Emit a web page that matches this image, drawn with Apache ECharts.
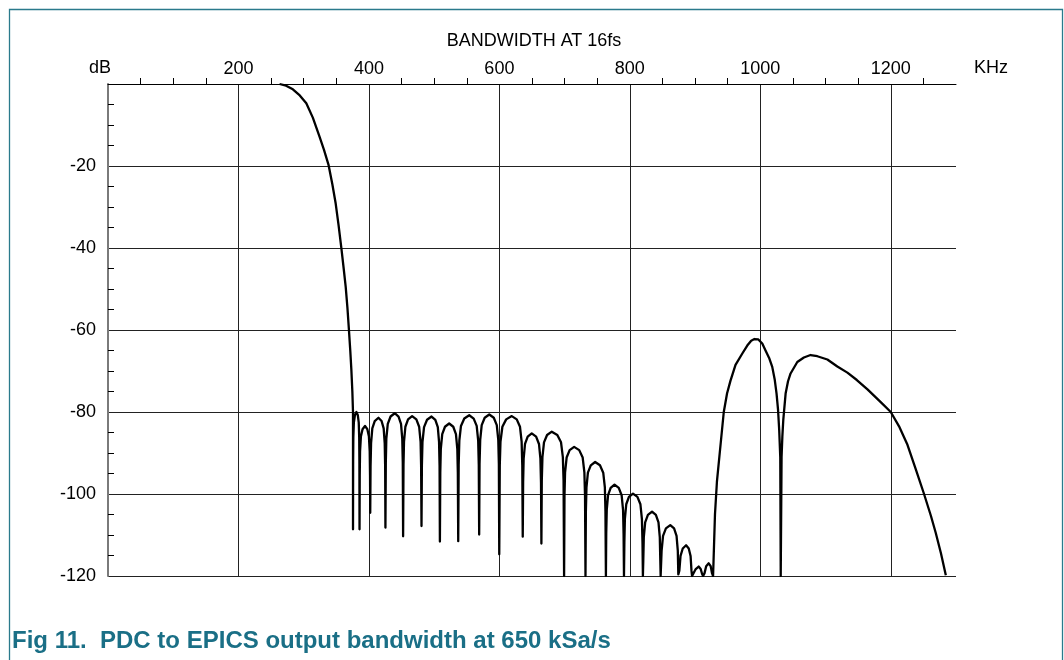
<!DOCTYPE html>
<html><head><meta charset="utf-8">
<script src="https://cdn.jsdelivr.net/npm/echarts@6/dist/echarts.min.js"></script>
<style>html,body{margin:0;padding:0;background:#fff}#c{width:1064px;height:660px}</style>
</head><body><div id="c"></div>
<script>
// ---- tick values ----
const xTickLabels = [200, 400, 600, 800, 1000, 1200];
const xMinorTicks = [50,100,150,250,300,350,450,500,550,650,700,750,850,900,950,1050,1100,1150,1250];
const yTickLabels = [-20, -40, -60, -80, -100, -120];
const yMinorTicks = [-5,-10,-15,-25,-30,-35,-45,-50,-55,-65,-70,-75,-85,-90,-95,-105,-110,-115];

// ---- curve: [frequency kHz, gain dB] ----
const mainLobe = [
  [263,0],[273,-0.4],[283.4,-1.3],[294,-2.8],[304,-4.7],[314,-8.2],[324.4,-12.9],[331,-16],[338.2,-19.8],
  [344,-24.5],[349,-29.1],[353.5,-34.5],[357.8,-40.1],[361.3,-45],[364.4,-49.5],[367,-54.5],[369.4,-60.1],
  [371.4,-65],[373.1,-69.8],[374.6,-75],[375.6,-80],[375.6,-108.6]
];
const stopbandLobes = [
  [375.8,-92],[376.1,-86.2],[376.9,-82.6],[378.5,-80.8],[380.8,-80],[383,-80.8],[384.4,-82.6],[385.1,-86.2],[385.4,-92],[385.6,-108.6],
  [385.9,-95.4],[386.4,-89.6],[387.7,-86],[390.2,-84.2],[394,-83.4],[397.6,-84.2],[400,-86],[401.2,-89.6],[401.7,-95.4],[402,-104.6],
  [402.5,-93.4],[403.3,-87.6],[405.2,-84],[408.9,-82.2],[414.6,-81.4],[419.4,-82.2],[422.6,-84],[424.2,-87.6],[424.9,-93.4],[425.3,-108.2],
  [425.9,-92.3],[426.7,-86.5],[428.9,-82.9],[433.2,-81.1],[439.6,-80.3],[445.4,-81.1],[449.2,-82.9],[451.1,-86.5],[451.9,-92.3],[452.4,-110.3],
  [453,-93],[453.8,-87.2],[455.9,-83.6],[460,-81.8],[466.2,-81],[472.7,-81.8],[477,-83.6],[479.2,-87.2],[480,-93],[480.6,-107.8],
  [481.2,-93.1],[482.1,-87.3],[484.5,-83.7],[489.1,-81.9],[496,-81.1],[501.8,-81.9],[505.6,-83.7],[507.5,-87.3],[508.3,-93.1],[508.8,-111.6],
  [509.4,-94.8],[510.2,-89],[512.4,-85.4],[516.6,-83.6],[523,-82.8],[529.3,-83.6],[533.4,-85.4],[535.5,-89],[536.3,-94.8],[536.9,-111.5],
  [537.6,-92.8],[538.6,-87],[541.1,-83.4],[546.2,-81.6],[553.8,-80.8],[560.6,-81.6],[565.2,-83.4],[567.5,-87],[568.4,-92.8],[569,-109.9],
  [569.6,-92.6],[570.6,-86.8],[572.9,-83.2],[577.5,-81.4],[584.5,-80.6],[591.4,-81.4],[596,-83.2],[598.3,-86.8],[599.2,-92.6],[599.8,-114.7],
  [600.6,-93],[601.7,-87.2],[604.6,-83.6],[610.4,-81.8],[619,-81],[626.6,-81.8],[631.6,-83.6],[634.1,-87.2],[635.1,-93],[635.8,-110.4],
  [636.4,-97.2],[637.2,-91.4],[639.3,-87.8],[643.4,-86],[649.6,-85.2],[656.3,-86],[660.7,-87.8],[662.9,-91.4],[663.8,-97.2],[664.4,-112.1],
  [665,-96.8],[666,-91],[668.4,-87.4],[673.1,-85.6],[680.3,-84.8],[688.8,-85.6],[694.5,-87.4],[697.3,-91],[698.4,-96.8],[699.2,-120],
  [699.8,-100.5],[700.7,-94.7],[703.1,-91.1],[707.7,-89.3],[714.6,-88.5],[722.4,-89.3],[727.7,-91.1],[730.3,-94.7],[731.3,-100.5],[732,-120],
  [732.6,-104.2],[733.5,-98.4],[735.7,-94.8],[740.1,-93],[746.8,-92.2],[754.2,-93],[759.2,-94.8],[761.7,-98.4],[762.6,-104.2],[763.3,-120],
  [763.8,-109.7],[764.6,-103.9],[766.6,-100.3],[770.6,-98.5],[776.5,-97.7],[783,-98.5],[787.4,-100.3],[789.6,-103.9],[790.4,-109.7],[791,-120],
  [791.6,-111.9],[792.4,-106.1],[794.5,-102.5],[798.6,-100.7],[804.8,-99.9],[811.6,-100.7],[816.2,-102.5],[818.5,-106.1],[819.4,-111.9],[820,-120],
  [820.6,-116.3],[821.4,-110.5],[823.5,-106.9],[827.7,-105.1],[834,-104.3],[839.9,-105.1],[843.9,-106.9],[845.9,-110.5],[846.7,-116.3],[847.2,-120],
  [847.8,-119.6],[848.7,-113.8],[850.9,-110.2],[855.3,-108.4],[862,-107.6],[867.8,-108.4],[871.6,-110.2],[873.5,-113.8],[874.3,-119.6],[874.8,-120],
  [875.9,-118.7],[877.7,-115.1],[881.1,-113.3],[886.2,-112.5],[890.3,-113.3],[893.1,-115.1],[894.5,-118.7],[895.4,-120],
  [897,-119.5],[901,-118.3],[905.5,-117.7],[908.6,-118.3],[910.8,-119.5],[912.3,-120],
  [914.5,-119.3],[917,-117.6],[920.9,-116.9],[923.9,-117.6],[925.9,-119.3],[927.6,-120]
];
const imageBand = [
  [927.6,-120],[930.5,-105],[933.5,-97],[937.8,-90],[944,-80],[949,-75.5],[954.2,-72.4],[962,-68.5],
  [972.2,-65.8],[980,-63.8],[986,-62.6],[991,-62.2],[997,-62.3],[1003,-63.3],[1008,-65],[1013.5,-66.8],
  [1018.3,-69],[1022,-72],[1024.9,-75.5],[1027.2,-79.5],[1029,-84.5],[1030.6,-91],[1031.3,-120],
  [1032.6,-91],[1033.8,-86],[1035.2,-82],[1038.8,-75.5],[1042.5,-72.5],[1046.4,-70.6],[1056.7,-67.8],
  [1066.8,-66.7],[1077,-66.1],[1087.4,-66.4],[1102.8,-67.2],[1118.1,-68.9],[1133.5,-70.4],[1148,-72.2],
  [1164.3,-74.5],[1184.6,-77.6],[1200,-80],[1212.7,-83.5],[1225.6,-88],[1238.4,-94],[1251,-100],
  [1261.5,-105.3],[1269,-109.5],[1277,-114.5],[1284.4,-119.8]
];

const FONT = '"Liberation Sans", Arial, Helvetica, sans-serif';
const gridColor = '#222';
const chart = echarts.init(document.getElementById('c'), null, {renderer: 'canvas'});
chart.setOption({
  animation: false,
  backgroundColor: '#fff',
  grid: {left: 108, right: 108, top: 84, bottom: 84, containLabel: false},
  xAxis: [{
    type: 'value', position: 'top', min: 0, max: 1300, interval: 200,
    axisLine: {show: true, onZero: false, lineStyle: {color: '#000', width: 1}},
    axisTick: {show: false},
    axisLabel: {
      show: true, margin: 6, fontSize: 18, color: '#000', fontFamily: FONT,
      formatter: v => xTickLabels.includes(v) ? String(v) : ''
    },
    splitLine: {show: true, showMinLine: false, showMaxLine: false, lineStyle: {color: gridColor, width: 1}}
  }, {
    type: 'value', position: 'top', offset: 0, min: 0, max: 1300, interval: 50,
    axisLine: {show: false},
    axisTick: {show: true, length: 6, customValues: xMinorTicks, lineStyle: {color: '#000', width: 1}},
    axisLabel: {show: false},
    splitLine: {show: false}
  }],
  yAxis: [{
    type: 'value', min: -120, max: 0, interval: 20,
    axisLine: {show: true, onZero: false, lineStyle: {color: '#7a7a7a', width: 2}},
    axisTick: {show: false},
    axisLabel: {
      show: true, margin: 12, fontSize: 18, color: '#000', fontFamily: FONT,
      formatter: v => yTickLabels.includes(v) ? String(v) : ''
    },
    splitLine: {show: true, showMinLine: true, showMaxLine: false, lineStyle: {color: gridColor, width: 1}}
  }, {
    type: 'value', position: 'left', offset: 0, min: -120, max: 0, interval: 5,
    axisLine: {show: false},
    axisTick: {show: true, inside: true, length: 6, customValues: yMinorTicks, lineStyle: {color: '#000', width: 1}},
    axisLabel: {show: false},
    splitLine: {show: false}
  }],
  series: [
    {type: 'line', xAxisIndex: 0, yAxisIndex: 0, data: mainLobe.concat(stopbandLobes, imageBand),
     showSymbol: false, symbol: 'none', clip: true,
     lineStyle: {color: '#000', width: 2.3, join: 'round'}, z: 5}
  ],
  graphic: [
    {type: 'polyline', shape: {points: [[9.5, 660], [9.5, 9.5], [1062.5, 9.5], [1062.5, 660]]},
     style: {stroke: '#2a7a8c', fill: null, lineWidth: 1.3}, silent: true},
    {type: 'text', x: 534, y: 41, style: {text: 'BANDWIDTH AT 16fs', font: '18px ' + FONT, fill: '#000', align: 'center', verticalAlign: 'middle'}},
    {type: 'text', x: 100, y: 68, style: {text: 'dB', font: '18px ' + FONT, fill: '#000', align: 'center', verticalAlign: 'middle'}},
    {type: 'text', x: 991, y: 68, style: {text: 'KHz', font: '18px ' + FONT, fill: '#000', align: 'center', verticalAlign: 'middle'}},
    {type: 'text', x: 12, y: 641, style: {text: 'Fig 11.  PDC to EPICS output bandwidth at 650 kSa/s', font: 'bold 24px ' + FONT, fill: '#1a6f86', align: 'left', verticalAlign: 'middle'}}
  ]
});
</script></body></html>
